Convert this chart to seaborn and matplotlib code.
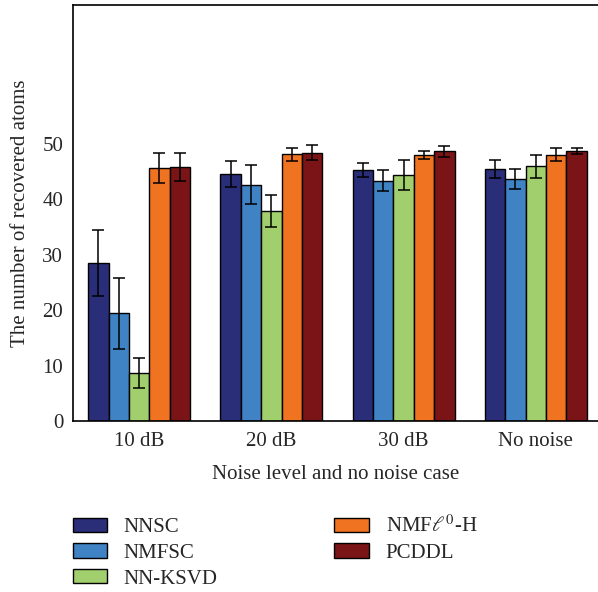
import pandas as pd
import matplotlib
matplotlib.use("Agg")
import matplotlib.pyplot as plt
import seaborn as sns

# datos
niveles = ["10 dB", "20 dB", "30 dB", "No noise"]
metodos = ["NNSC", "NMFSC", "NN-KSVD", r"NMF$\ell^0$-H", "PCDDL"]
colores = ["#2a2d78", "#3f83c4", "#a2cf6e", "#f07321", "#7b1416"]

media = {
    "NNSC":          [28.5, 44.5, 45.3, 45.4],
    "NMFSC":         [19.4, 42.6, 43.3, 43.6],
    "NN-KSVD":       [8.7, 37.8, 44.3, 45.9],
    r"NMF$\ell^0$-H": [45.6, 48.1, 47.9, 48.0],
    "PCDDL":         [45.8, 48.4, 48.6, 48.7],
}
error = {
    "NNSC":          [6.0, 2.3, 1.3, 1.6],
    "NMFSC":         [6.4, 3.5, 1.9, 1.8],
    "NN-KSVD":       [2.7, 2.9, 2.7, 2.0],
    r"NMF$\ell^0$-H": [2.7, 1.2, 0.7, 1.2],
    "PCDDL":         [2.5, 1.3, 1.0, 0.6],
}

sns.set_style("white")
plt.rcParams["font.family"] = ["Liberation Serif", "DejaVu Serif"]
plt.rcParams["mathtext.fontset"] = "stix"

filas = []
for m in metodos:
    for i, n in enumerate(niveles):
        filas.append({"nivel": n, "metodo": m, "valor": media[m][i], "err": error[m][i]})
df = pd.DataFrame(filas)

fig = plt.figure(figsize=(5.98, 5.92), dpi=100)
ax = fig.add_axes([73 / 598, 171 / 592, 525 / 598, 416 / 592])

sns.barplot(data=df, x="nivel", y="valor", hue="metodo", hue_order=metodos,
            order=niveles, palette=colores, width=0.77, errorbar=None,
            edgecolor="black", linewidth=1.0, saturation=1, ax=ax)

# barras de error en el centro de cada barra
for j, m in enumerate(metodos):
    cont = ax.containers[j]
    xs = [p.get_x() + p.get_width() / 2 for p in cont.patches]
    ys = [p.get_height() for p in cont.patches]
    ax.errorbar(xs, ys, yerr=error[m], fmt="none", ecolor="black",
                elinewidth=1.1, capsize=4, capthick=1.1, zorder=5)

fs = 15
ax.set_ylim(0, 75)
ax.set_xlim(-0.5, 3.47)
ax.set_yticks([0, 10, 20, 30, 40, 50])
ax.tick_params(axis="y", direction="in", length=3, labelsize=fs, pad=7)
ax.tick_params(axis="x", length=0, labelsize=fs, pad=8)
ax.set_xlabel("Noise level and no noise case", fontsize=fs, labelpad=10)
ax.set_ylabel("The number of recovered atoms", fontsize=fs, labelpad=9)
for lado in ["left", "bottom", "top"]:
    ax.spines[lado].set_color("black")
    ax.spines[lado].set_linewidth(1.2)
ax.spines["right"].set_visible(False)

handles, labels = ax.get_legend_handles_labels()
ax.get_legend().remove()
fig.legend(handles, labels, ncol=2, loc="upper left",
           bbox_to_anchor=(54 / 598, 1 - 497 / 592), frameon=False,
           fontsize=fs, handlelength=1.65, handleheight=0.68,
           columnspacing=5.6, labelspacing=0.3, handletextpad=0.8)

fig.savefig("out.png", dpi=100)
